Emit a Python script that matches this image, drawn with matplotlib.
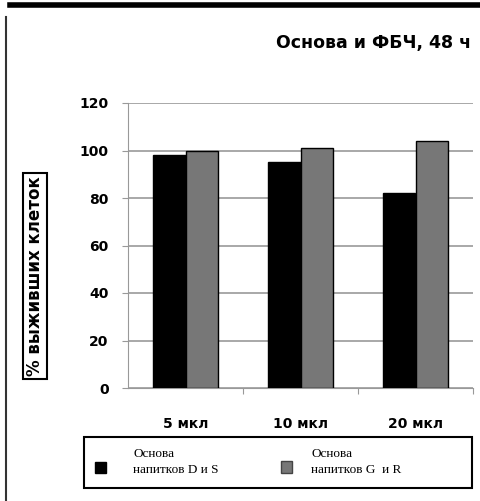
import matplotlib
matplotlib.use("Agg")
import matplotlib.pyplot as plt
import numpy as np
from matplotlib.lines import Line2D
from matplotlib.patches import Rectangle

categories = ["5 мкл", "10 мкл", "20 мкл"]
series_ds = [98, 95, 82]
series_gr = [100, 101, 104]
labels = ["Основа\nнапитков D и S", "Основа\nнапитков G  и R"]
y_ticks = [0, 20, 40, 60, 80, 100, 120]

fig = plt.figure(figsize=(4.8, 5.01), dpi=100)
W, H = 480, 501
ax = fig.add_axes([128 / W, 1 - 388 / H, 345 / W, 285 / H])

x = np.arange(len(categories))
w = 0.28
ax.bar(x - w / 2, series_ds, w, color="black", edgecolor="black", linewidth=1, zorder=3)
ax.bar(x + w / 2, series_gr, w, color="#777777", edgecolor="black", linewidth=1, zorder=3)

ax.set_xlim(-0.5, 2.5)
ax.set_ylim(0, 120)
ax.set_yticks(y_ticks)
ax.set_yticklabels([str(v) for v in y_ticks], fontsize=10, fontweight="bold")
ax.yaxis.grid(True, color="#999999", linewidth=1.2, zorder=0)
ax.set_xticks([0.5, 1.5, 2.5])
ax.set_xticklabels([])
ax.tick_params(axis="x", length=4, color="#999999", direction="out")
ax.tick_params(axis="y", length=4, color="#999999", direction="out", pad=10)
for s in ["top", "right"]:
    ax.spines[s].set_visible(False)
ax.spines["left"].set_color("#999999")
ax.spines["bottom"].set_color("#999999")

for i, c in enumerate(categories):
    ax.text(i, -15, c, ha="center", va="center", fontsize=10, fontweight="bold")

# y label in a box
fig.text(35 / W, 1 - 276 / H, "% выживших клеток", rotation=90, ha="center", va="center",
         fontsize=12, fontweight="bold",
         bbox=dict(boxstyle="square,pad=0.2", facecolor="white", edgecolor="black", linewidth=1.5))

fig.text(374 / W, 1 - 43 / H, "Основа и ФБЧ, 48 ч", ha="center", va="center",
         fontsize=12.5, fontweight="bold")

# legend box
fig.add_artist(Rectangle((84 / W, 1 - 488 / H), 388 / W, 51 / H, transform=fig.transFigure,
                         facecolor="white", edgecolor="black", linewidth=1.5))
fig.add_artist(Rectangle((95 / W, 1 - 473 / H), 11 / W, 11 / H, transform=fig.transFigure,
                         facecolor="black", edgecolor="black"))
fig.add_artist(Rectangle((281 / W, 1 - 473 / H), 11 / W, 12 / H, transform=fig.transFigure,
                         facecolor="#777777", edgecolor="#444444"))
fig.text(133 / W, 1 - 462 / H, labels[0], ha="left", va="center", fontsize=9.5,
         family="Liberation Serif", linespacing=1.35)
fig.text(311 / W, 1 - 462 / H, labels[1], ha="left", va="center", fontsize=9.5,
         family="Liberation Serif", linespacing=1.35)

# frame lines of the cropped image
fig.add_artist(Line2D([10 / W, 1], [1 - 5 / H, 1 - 5 / H], transform=fig.transFigure,
                      color="black", linewidth=4))
fig.add_artist(Line2D([6 / W, 6 / W], [1 - 17 / H, 0], transform=fig.transFigure,
                      color="#333333", linewidth=1.5))

fig.savefig("out.png", dpi=100)
